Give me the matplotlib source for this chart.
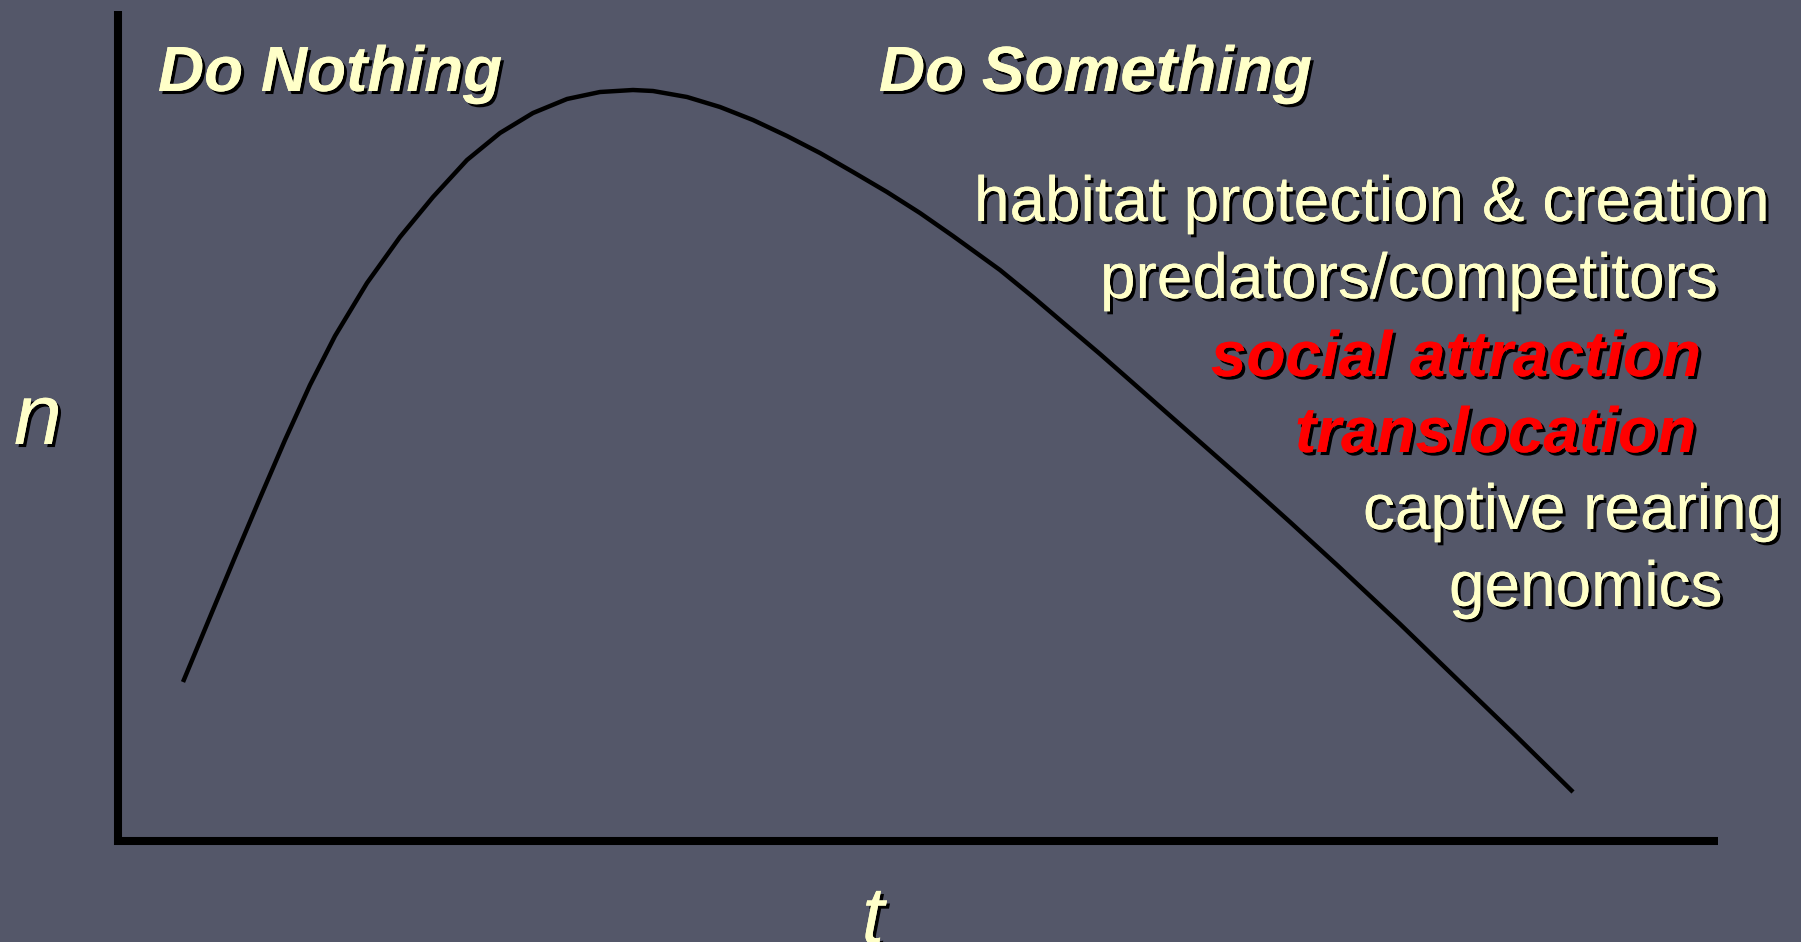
#!/usr/bin/env python3
"""Do nothing / do something population curve (slide recreation)."""
import matplotlib

matplotlib.use("Agg")
import matplotlib.pyplot as plt
import matplotlib.patheffects as pe

# curve: time t and population n (pixel-like units from origin)
t = [65, 92, 117, 142, 167, 192, 217, 249, 282, 315, 349, 382, 415, 449, 482, 515,
     535, 569, 602, 635, 669, 702, 735, 769, 802, 835, 882, 915, 949, 982, 1015,
     1049, 1082, 1132, 1172, 1219, 1282, 1342, 1397, 1455]
n = [159, 224, 284, 343, 401, 456, 505, 558, 604, 644, 681, 708, 728, 742, 749, 751,
     750, 744, 734, 721, 705, 688, 669, 649, 628, 605, 571, 544, 515, 487, 458,
     428, 399, 355, 319, 276, 217, 159, 106, 49]

headers = ["Do Nothing", "Do Something"]
actions = ["habitat protection & creation", "predators/competitors", "social attraction",
           "translocation", "captive rearing", "genomics"]
highlight = [False, False, True, True, False, False]

BG = "#545769"
CREAM = "#ffffc8"


def main():
    W, H = 1801, 942
    fig = plt.figure(figsize=(W / 100, H / 100), dpi=100, facecolor=BG)
    ax = fig.add_axes([0, 0, 1, 1], facecolor=BG)
    ox, oy = 118, 841  # origin in pixels
    ax.set_xlim(-ox, W - ox)
    ax.set_ylim(-(H - oy), oy)

    for side in ["top", "right"]:
        ax.spines[side].set_visible(False)
    ax.spines["left"].set_position(("data", 0))
    ax.spines["bottom"].set_position(("data", 0))
    ax.spines["left"].set_bounds(-4, 830)
    ax.spines["bottom"].set_bounds(-4, 1600)
    for side in ["left", "bottom"]:
        ax.spines[side].set_linewidth(5.8)
        ax.spines[side].set_color("black")
        ax.spines[side].set_capstyle("butt")
    ax.set_xticks([])
    ax.set_yticks([])

    ax.plot(t, n, color="black", lw=3.2, solid_capstyle="butt", solid_joinstyle="round")

    shadow = [pe.withSimplePatchShadow(offset=(2.2, -2.2), shadow_rgbFace="black", alpha=1.0),
              pe.Normal()]
    family = ["Liberation Sans", "DejaVu Sans"]

    def ftext(x, y, s, **kw):
        kw.setdefault("va", "center")
        fig.text(x / W, 1 - y / H, s, family=family, path_effects=shadow, **kw)

    ftext(158, 74, headers[0], size=46, weight="bold", style="italic", color=CREAM)
    ftext(879, 74, headers[1], size=46, weight="bold", style="italic", color=CREAM)

    lefts = [974, 1100, 1211, 1295, 1363, 1449]
    ys = [204, 281, 359, 435, 512, 589]
    for s, hl, x, y in zip(actions, highlight, lefts, ys):
        if hl:
            ftext(x, y, s, size=46, weight="bold", style="italic", color="#ff0000")
        else:
            ftext(x, y, s, size=46, color=CREAM)

    ftext(14, 422, "n", size=62, style="italic", color=CREAM)
    ftext(873, 884, "t", size=58, style="italic", color=CREAM, ha="center", va="top")

    fig.savefig("out.png", dpi=100, facecolor=BG)


if __name__ == "__main__":
    main()
